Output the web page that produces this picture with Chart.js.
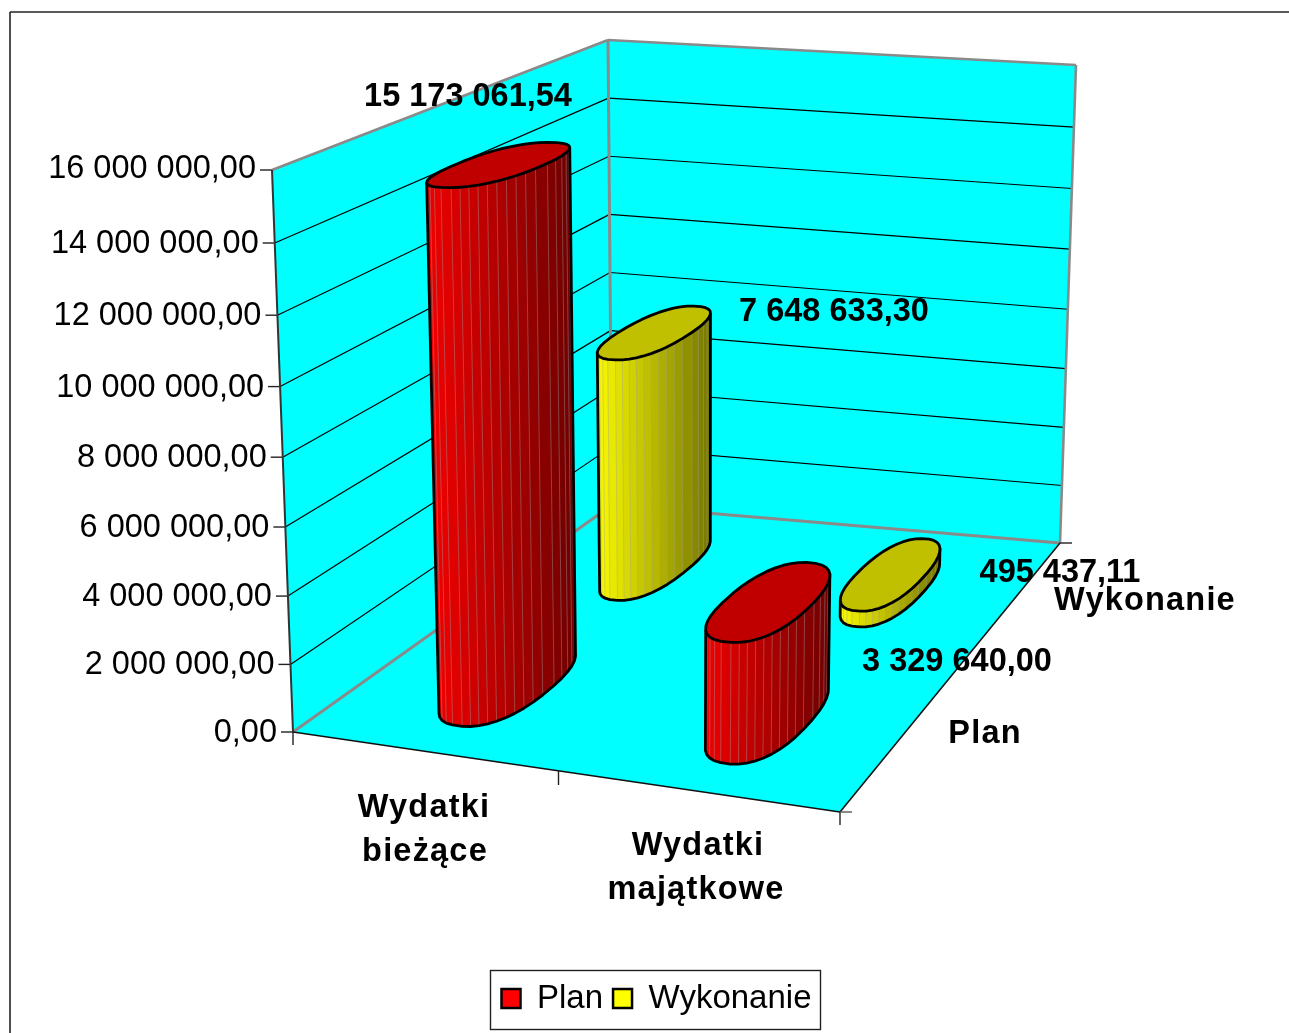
<!DOCTYPE html>
<html>
<head>
<meta charset="utf-8">
<style>html,body{margin:0;padding:0;background:#fff}#w{width:1289px;height:1033px}canvas{display:block}</style>
<script src="https://cdn.jsdelivr.net/npm/chart.js@4"></script>
</head>
<body>
<div id="w"><canvas id="c" width="1289" height="1033"></canvas></div>
<script>
const categories = [["Wydatki","bieżące"],["Wydatki","majątkowe"]];
const seriesNames = ["Plan","Wykonanie"];
const planValues = [15173061.54, 3329640.00];
const wykonanieValues = [7648633.30, 495437.11];
const yMax = 16000000;
const yStep = 2000000;

const FONT = '"Liberation Sans", Arial, sans-serif';
const C = {
  FBL:[293,732], FBR:[840,812], BBL:[612,505], BBR:[1060,543],
  FTL:[272,170], FTR:[850,172], BTL:[608,40], BTR:[1076,65]
};
const RU = [0.078,0.068], RD = [0.172,0.142], FACETS = 40, WARP = 0.045, D_SHIFT = 0.03, U_SHIFT = -0.008, ROUND = 0.85;
const labelPos = [[[468,97],[957,662]],[[834,312],[1060,573]]];
const catPos = [[[424,808],[425,852]],[[698,846],[696,890]]];
const depthPos = [[985,734],[1145,601]];
const shades = [
  {hi:[240,0,0],lo:[112,0,0],top:'#C00000'},
  {hi:[250,250,0],lo:[118,118,0],top:'#C0C000'}
];

const fmt = v => {
  const [a,b] = Math.abs(v).toFixed(2).split('.');
  return a.replace(/\B(?=(\d{3})+(?!\d))/g,' ') + ',' + b;
};
const lerp = (a,b,t)=>a+(b-a)*t;
const lp = (p,q,t)=>[lerp(p[0],q[0],t),lerp(p[1],q[1],t)];
const spow = x => Math.sign(x)*Math.pow(Math.abs(x),ROUND);
function project(u,d,v){
  const f = v/(1+WARP*(1-d*(1-u))*(1-v));
  const bot = lp(lp(C.FBL,C.FBR,u),lp(C.BBL,C.BBR,u),d);
  const top = lp(lp(C.FTL,C.FTR,u),lp(C.BTL,C.BTR,u),d);
  return lp(bot,top,f);
}
function poly(ctx,pts){ctx.beginPath();pts.forEach((p,i)=>i?ctx.lineTo(p[0],p[1]):ctx.moveTo(p[0],p[1]));ctx.closePath();}
function line(ctx,a,b,col,w){ctx.strokeStyle=col;ctx.lineWidth=w;ctx.beginPath();ctx.moveTo(a[0],a[1]);ctx.lineTo(b[0],b[1]);ctx.stroke();}
const frac = (s,val)=>(s.getPixelForValue(0)-s.getPixelForValue(val))/(s.getPixelForValue(0)-s.getPixelForValue(yMax));

function drawCylinder(ctx,u0,d0,v,sh,ru,rd){
  const bot=[],top=[];
  for(let i=0;i<FACETS;i++){
    const t=(i+0.5)/FACETS*Math.PI*2;
    const u=u0+ru*spow(Math.cos(t)), d=d0+rd*spow(Math.sin(t));
    bot.push(project(u,d,0)); top.push(project(u,d,v));
  }
  const xs=bot.map(p=>p[0]); const xmin=Math.min(...xs), xmax=Math.max(...xs);
  const vis=[];
  for(let i=0;i<FACETS;i++){const j=(i+1)%FACETS; if(bot[j][0]>bot[i][0]) vis.push([i,j]);}
  vis.sort((a,b)=>bot[a[0]][0]-bot[b[0]][0]);
  vis.forEach(([i,j])=>{
    const s=((bot[i][0]+bot[j][0])/2-xmin)/(xmax-xmin);
    const col=[0,1,2].map(k=>Math.round(lerp(sh.hi[k],sh.lo[k],s)));
    poly(ctx,[bot[i],bot[j],top[j],top[i]]);
    ctx.fillStyle=`rgb(${col})`;ctx.fill();
    ctx.strokeStyle=`rgb(${col})`;ctx.lineWidth=1;ctx.stroke();
  });
  vis.slice(1).forEach(([i])=>line(ctx,bot[i],top[i],'rgba(165,165,165,0.4)',1));
  ctx.lineJoin='round';
  const outline=[top[vis[0][0]]];
  vis.forEach(([i])=>outline.push(bot[i]));
  const last=vis[vis.length-1][1];
  outline.push(bot[last]);outline.push(top[last]);
  ctx.strokeStyle='#000';ctx.lineWidth=2.8;ctx.beginPath();
  outline.forEach((p,i)=>i?ctx.lineTo(p[0],p[1]):ctx.moveTo(p[0],p[1]));ctx.stroke();
  poly(ctx,top);ctx.fillStyle=sh.top;ctx.fill();ctx.stroke();
}

const scene3d = {
  id:'scene3d',
  beforeDatasetsDraw(chart){
    const ctx=chart.ctx, ys=chart.scales.y;
    ctx.save();
    line(ctx,[10,1033],[10,12],'#222',1.6);
    line(ctx,[10,12],[1289,12],'#222',1.6);
    ctx.fillStyle='#00FFFF';
    poly(ctx,[project(0,0,0),project(1,0,0),project(1,1,0),project(0,1,0)]);ctx.fill();
    poly(ctx,[project(0,0,0),project(0,1,0),project(0,1,1),project(0,0,1)]);ctx.fill();
    poly(ctx,[project(0,1,0),project(1,1,0),project(1,1,1),project(0,1,1)]);ctx.fill();
    ys.ticks.forEach(t=>{
      const v=frac(ys,t.value);
      const a=project(0,0,v),b=project(0,1,v),c=project(1,1,v);
      if(t.value>0&&t.value<yMax){line(ctx,a,b,'#000',1.2);line(ctx,b,c,'#000',1.2);}
      line(ctx,[a[0]-12,a[1]],a,'#222',1.4);
      ctx.fillStyle='#000';ctx.font='32.5px '+FONT;ctx.textAlign='right';ctx.textBaseline='middle';
      ctx.fillText(t.label,a[0]-16,a[1]+(t.value<yMax?1:-1));
    });
    const gray='#8a8a8a';
    line(ctx,project(0,0,1),project(0,1,1),gray,2.6);
    line(ctx,project(0,1,1),project(1,1,1),gray,2.6);
    line(ctx,project(1,1,1),project(1,1,0),gray,2.6);
    line(ctx,project(0,1,1),project(0,1,0),gray,3);
    line(ctx,project(0,0,0),project(0,1,0),gray,3);
    line(ctx,project(0,1,0),project(1,1,0),gray,3);
    line(ctx,project(0,0,1),project(0,0,0),'#333',2);
    line(ctx,project(0,0,0),project(1,0,0),'#111',1.6);
    line(ctx,project(1,0,0),project(1,1,0),'#111',1.6);
    categories.forEach((_,i)=>{
      const p=project(i/categories.length,0,0), dx=i?8:0;
      line(ctx,[p[0]-dx,p[1]-(i?1:0)],[p[0]-dx,p[1]+13],'#222',1.4);
    });
    const e=project(1,0,0);line(ctx,e,[e[0],e[1]+13],'#222',1.4);line(ctx,e,[e[0]+12,e[1]],'#555',1.4);
    const g=project(1,1,0);line(ctx,g,[g[0]+12,g[1]],'#222',1.4);
    ctx.restore();
  },
  beforeDatasetDraw(chart,args){
    const ctx=chart.ctx, meta=args.meta, ys=chart.scales.y, n=chart.data.labels.length, m=chart.data.datasets.length;
    ctx.save();
    meta.data.forEach((el,i)=>{
      const v=(el.base-el.y)/(ys.getPixelForValue(0)-ys.getPixelForValue(yMax));
      drawCylinder(ctx,(i+0.5)/n+U_SHIFT,(args.index+0.5)/m+D_SHIFT,v,shades[args.index],RU[args.index],RD[args.index]);
    });
    ctx.restore();
    return false;
  },
  afterDatasetsDraw(chart){
    const ctx=chart.ctx;
    ctx.save();
    ctx.fillStyle='#000';ctx.textAlign='center';ctx.textBaseline='middle';
    ctx.font='bold 32.5px '+FONT;
    chart.data.datasets.forEach((ds,s)=>ds.data.forEach((val,i)=>{
      const p=labelPos[s][i];ctx.fillText(fmt(val),p[0],p[1]);
    }));
    ctx.letterSpacing='1.2px';
    categories.forEach((lines,i)=>lines.forEach((t,k)=>{const p=catPos[i][k];ctx.fillText(t,p[0],p[1]);}));
    seriesNames.forEach((t,s)=>{const p=depthPos[s];ctx.fillText(t,p[0],p[1]);});
    ctx.restore();
    ctx.save();
    ctx.strokeStyle='#222';ctx.lineWidth=1.4;ctx.strokeRect(490.5,970.5,330,59);
    ctx.restore();
  }
};

new Chart(document.getElementById('c'),{
  type:'bar',
  data:{
    labels:categories.map(c=>c.join(' ')),
    datasets:[
      {label:seriesNames[0],data:planValues,backgroundColor:'#FF0000',borderColor:'#000',borderWidth:2.5},
      {label:seriesNames[1],data:wykonanieValues,backgroundColor:'#FFFF00',borderColor:'#000',borderWidth:2.5}
    ]
  },
  options:{
    responsive:false,animation:false,
    layout:{padding:{top:170,left:24,bottom:8,right:0}},
    plugins:{
      tooltip:{enabled:false},
      legend:{display:true,position:'bottom',labels:{boxWidth:19,boxHeight:19,padding:10,color:'#000',font:{family:'"Liberation Sans"',size:33}}}
    },
    scales:{
      x:{display:true,ticks:{display:false},grid:{display:false},border:{display:false},afterFit(s){s.height=240;}},
      y:{display:true,min:0,max:yMax,ticks:{display:false,stepSize:yStep,autoSkip:false,callback:v=>fmt(v)},grid:{display:false},border:{display:false}}
    }
  },
  plugins:[scene3d]
});
</script>
</body>
</html>
